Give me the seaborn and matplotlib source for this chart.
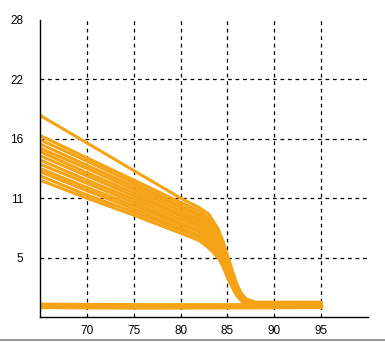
import matplotlib
matplotlib.use('Agg')
from matplotlib import pyplot as plt
from matplotlib.lines import Line2D
import seaborn as sns
import pandas as pd

# x positions shared by all descending curves
x_pts = [65, 70, 75, 80, 82, 83, 84, 84.5, 85, 85.5, 86, 86.5, 87, 88, 90, 95]

curve_top = [19.0, 16.4, 13.8, 11.2, 10.3, 9.7, 8.3, 7.2, 5.8, 4.4, 3.1, 2.2, 1.7, 1.4, 1.4, 1.4]
band_01 = [17.1, 15.0, 12.9, 10.8, 10.0, 9.3, 8.0, 6.9, 5.4, 4.1, 2.9, 2.1, 1.6, 1.3, 1.3, 1.3]
band_02 = [16.7, 14.7, 12.6, 10.5, 9.7, 9.0, 7.8, 6.7, 5.2, 4.0, 2.8, 2.0, 1.6, 1.3, 1.3, 1.3]
band_03 = [16.3, 14.3, 12.3, 10.3, 9.5, 8.8, 7.6, 6.5, 5.1, 3.9, 2.7, 2.0, 1.5, 1.3, 1.3, 1.3]
band_04 = [15.9, 14.0, 12.0, 10.0, 9.2, 8.5, 7.3, 6.3, 4.9, 3.7, 2.7, 1.9, 1.5, 1.3, 1.3, 1.3]
band_05 = [15.6, 13.6, 11.7, 9.7, 9.0, 8.3, 7.1, 6.1, 4.8, 3.6, 2.6, 1.9, 1.5, 1.2, 1.2, 1.2]
band_06 = [15.2, 13.3, 11.4, 9.5, 8.7, 8.0, 6.9, 5.9, 4.6, 3.5, 2.5, 1.8, 1.4, 1.2, 1.2, 1.2]
band_07 = [14.8, 12.9, 11.1, 9.2, 8.5, 7.8, 6.7, 5.8, 4.5, 3.4, 2.4, 1.8, 1.4, 1.2, 1.2, 1.2]
band_08 = [14.4, 12.6, 10.8, 8.9, 8.2, 7.5, 6.5, 5.6, 4.3, 3.3, 2.3, 1.7, 1.4, 1.1, 1.1, 1.1]
band_09 = [14.0, 12.2, 10.5, 8.7, 8.0, 7.3, 6.3, 5.4, 4.2, 3.2, 2.2, 1.7, 1.3, 1.1, 1.1, 1.1]
band_10 = [13.7, 11.9, 10.2, 8.4, 7.7, 7.0, 6.0, 5.2, 4.0, 3.0, 2.2, 1.6, 1.3, 1.1, 1.1, 1.1]
band_11 = [13.3, 11.5, 9.9, 8.2, 7.5, 6.8, 5.8, 5.0, 3.9, 2.9, 2.1, 1.6, 1.2, 1.0, 1.0, 1.0]
band_12 = [12.9, 11.2, 9.6, 7.9, 7.2, 6.5, 5.6, 4.8, 3.7, 2.8, 2.0, 1.5, 1.2, 1.0, 1.0, 1.0]

# flat curves along the bottom
flat_x = [65, 76, 95]
flat_a = [1.15, 1.1, 1.1]
flat_b = [0.95, 0.9, 0.95]

xticks = [70, 75, 80, 85, 90, 95]
yticks = [5.6, 11.2, 16.8, 22.4, 28]
ytick_labels = ['5', '11', '16', '22', '28']

curves = [curve_top, band_01, band_02, band_03, band_04, band_05, band_06,
          band_07, band_08, band_09, band_10, band_11, band_12]
rows = []
for i, ys in enumerate(curves):
    for x, y in zip(x_pts, ys):
        rows.append({'x': x, 'y': y, 'run': i})
for j, ys in enumerate([flat_a, flat_b]):
    for x, y in zip(flat_x, ys):
        rows.append({'x': x, 'y': y, 'run': 100 + j})
df = pd.DataFrame(rows)

sns.set_style('white')
plt.rcParams['font.family'] = ['Liberation Sans', 'DejaVu Sans']

fig = plt.figure(figsize=(3.85, 3.42), dpi=100)
ax = fig.add_axes([0.104, 0.073, 0.852, 0.869])

orange = '#F4A316'
sns.lineplot(data=df[df['run'] < 100], x='x', y='y', units='run', estimator=None,
             color=orange, lw=2.2, ax=ax, sort=False)
sns.lineplot(data=df[df['run'] >= 100], x='x', y='y', units='run', estimator=None,
             color=orange, lw=3.2, ax=ax, sort=False)

ax.set_xlim(65, 100)
ax.set_ylim(0, 28)
ax.set_xticks(xticks)
ax.set_yticks(yticks)
ax.set_yticklabels(ytick_labels)
ax.set_xlabel('')
ax.set_ylabel('')

ax.grid(True, color='black', linestyle=(0, (3, 3)), lw=0.9)
ax.yaxis.get_gridlines()[-1].set_visible(False)
ax.set_axisbelow(True)

for s in ['top', 'right']:
    ax.spines[s].set_visible(False)
for s in ['left', 'bottom']:
    ax.spines[s].set_color('black')
    ax.spines[s].set_linewidth(1.0)

ax.tick_params(axis='y', direction='out', length=3, pad=9, labelsize=8.5, colors='black')
ax.tick_params(axis='x', direction='out', length=3, pad=3, labelsize=8.5, colors='black')

fig.add_artist(Line2D([0, 1], [0.006, 0.006], color='#999999', lw=1.5))

fig.savefig('out.png', dpi=100)
